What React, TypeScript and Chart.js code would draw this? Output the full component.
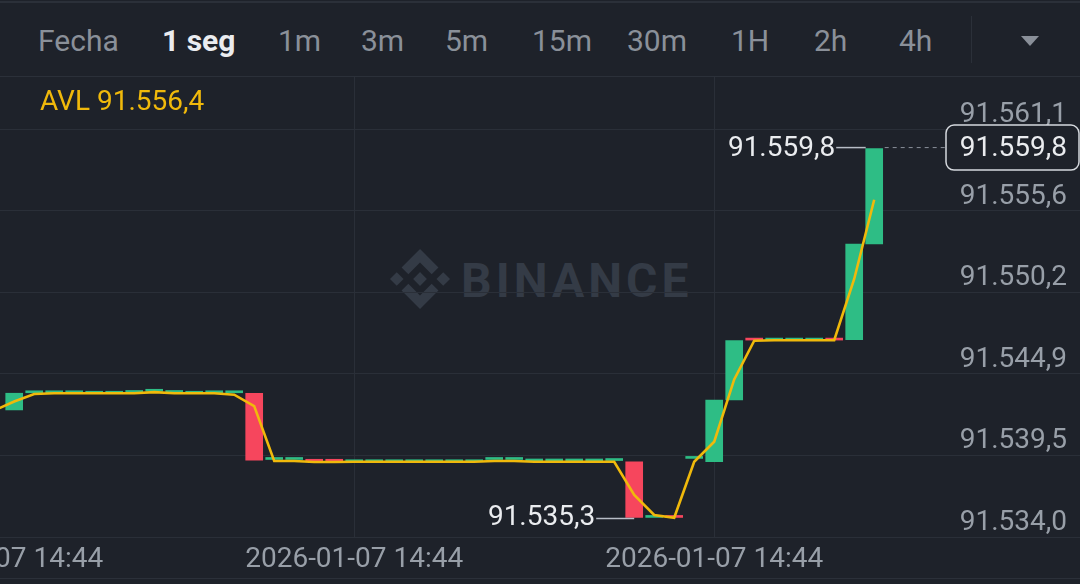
import React, { useEffect, useRef } from "react";
import { Chart, registerables } from "chart.js";

Chart.register(...registerables);

// ---------- data ----------
const tabs = ["Fecha", "1 seg", "1m", "3m", "5m", "15m", "30m", "1H", "2h", "4h"];
const activeTab = "1 seg";

// candle slot 0 is the partly hidden candle at the left edge
const openValues: (number | null)[] = [
  null, 91542.44, 91543.58, 91543.58, 91543.58, 91543.55, 91543.55, 91543.6, 91543.68, 91543.6,
  91543.55, 91543.58, 91543.58, 91543.55, 91539.15, 91539.15, 91539.08, 91539.08, 91539.0, 91539.0,
  91539.0, 91539.0, 91539.0, 91539.0, 91539.0, 91539.15, 91539.15, 91539.05, 91539.05, 91539.05,
  91539.05, 91539.08, 91539.0, 91535.3, 91535.33, 91539.22, 91539.0, 91543.1, 91547.12, 91547.08,
  91547.08, 91547.08, 91547.12, 91547.1, 91553.46,
];
const closeValues: (number | null)[] = [
  null, 91543.55, 91543.6, 91543.6, 91543.6, 91543.55, 91543.55, 91543.62, 91543.7, 91543.62,
  91543.55, 91543.6, 91543.6, 91539.11, 91539.18, 91539.18, 91539.03, 91539.03, 91539.0, 91539.0,
  91539.0, 91539.0, 91539.0, 91539.0, 91539.0, 91539.18, 91539.18, 91539.05, 91539.05, 91539.05,
  91539.05, 91539.09, 91535.3, 91535.3, 91535.3, 91539.25, 91543.1, 91547.04, 91547.08, 91547.1,
  91547.1, 91547.1, 91547.08, 91553.46, 91559.8,
];
const avlValues: number[] = [
  91542.4, 91543.0, 91543.5, 91543.55, 91543.55, 91543.55, 91543.55, 91543.55, 91543.62, 91543.55,
  91543.55, 91543.55, 91543.45, 91542.7, 91539.05, 91539.05, 91538.98, 91538.98, 91539.0, 91539.0,
  91539.0, 91539.0, 91539.0, 91539.0, 91539.0, 91539.05, 91539.05, 91539.0, 91539.0, 91539.0,
  91539.0, 91539.0, 91536.8, 91535.46, 91535.28, 91539.0, 91540.33, 91544.47, 91547.04, 91547.07,
  91547.07, 91547.07, 91547.07, 91551.14, 91556.4,
];

const yTickValues = [91534.0, 91539.42, 91544.84, 91550.26, 91555.68, 91561.1];
const yTickLabels = ["91.534,0", "91.539,5", "91.544,9", "91.550,2", "91.555,6", "91.561,1"];
const xTickSlots = [0, 18, 36];
const xTickLabels = ["2026-01-07 14:44", "2026-01-07 14:44", "2026-01-07 14:44"];

// ---------- styles ----------
const BG = "#1e222a";
const GRID = "#2a2f38";
const GREEN = "#2ebd85";
const RED = "#f6465d";
const YELLOW = "#f0b90b";
const AXIS_TEXT = "#989fa8";
const WHITE = "#eaecef";
const FONT = "Roboto";
const tabLeft = [38, 162, 278, 361, 445, 532, 627, 731, 814, 899];

function fmt(v: number): string {
  const [i, d] = v.toFixed(1).split(".");
  return i.replace(/\B(?=(\d{3})+(?!\d))/g, ".") + "," + d;
}

export default function App() {
  const canvasRef = useRef<HTMLCanvasElement>(null);

  useEffect(() => {
    document.body.style.margin = "0";
    document.body.style.background = BG;
    const canvas = canvasRef.current!;

    const candleData: any[] = [];
    const candleColors: string[] = [];
    openValues.forEach((o, i) => {
      const c = closeValues[i];
      if (o == null || c == null) return;
      candleData.push({ x: i, y: [o, c] });
      candleColors.push(c >= o ? GREEN : RED);
    });
    const avlData = avlValues.map((v, i) => ({ x: i, y: v }));

    const markers = {
      id: "markers",
      afterDraw(chart: any) {
        const { ctx } = chart;
        const xs = chart.scales.x;
        const ys = chart.scales.y;
        let maxI = -1, maxV = -Infinity, minI = -1, minV = Infinity;
        openValues.forEach((o, i) => {
          const c = closeValues[i];
          if (o == null || c == null) return;
          const hi = Math.max(o, c), lo = Math.min(o, c);
          if (hi > maxV) { maxV = hi; maxI = i; }
          if (lo < minV) { minV = lo; minI = i; }
        });
        ctx.save();
        ctx.font = `28px ${FONT}`;
        ctx.textBaseline = "middle";
        ctx.textAlign = "right";
        // max marker
        const maxX = xs.getPixelForValue(maxI);
        const maxY = ys.getPixelForValue(maxV);
        ctx.strokeStyle = "#b7bdc6";
        ctx.lineWidth = 1.5;
        ctx.beginPath();
        ctx.moveTo(maxX - 38, maxY - 1);
        ctx.lineTo(maxX - 8.5, maxY - 1);
        ctx.stroke();
        ctx.fillStyle = WHITE;
        ctx.fillText(fmt(maxV), maxX - 39, maxY);
        // min marker
        const minX = xs.getPixelForValue(minI);
        const minY = ys.getPixelForValue(minV);
        ctx.beginPath();
        ctx.moveTo(minX - 38, minY + 1);
        ctx.lineTo(minX, minY + 1);
        ctx.stroke();
        ctx.fillText(fmt(minV), minX - 39, minY + 1);
        // last price dashed line + box
        const last = closeValues[closeValues.length - 1] as number;
        const lx = xs.getPixelForValue(closeValues.length - 1) + 8.5;
        const ly = ys.getPixelForValue(last);
        ctx.strokeStyle = "#8a919b";
        ctx.lineWidth = 1;
        ctx.setLineDash([4, 4]);
        ctx.beginPath();
        ctx.moveTo(lx + 2, ly - 1);
        ctx.lineTo(946, ly - 1);
        ctx.stroke();
        ctx.setLineDash([]);
        const bx = 946, bw = 133, bh = 45, by = ly - 23.5;
        ctx.fillStyle = BG;
        ctx.strokeStyle = "#d5d9de";
        ctx.lineWidth = 1.5;
        ctx.beginPath();
        (ctx as any).roundRect(bx, by, bw, bh, 8);
        ctx.fill();
        ctx.stroke();
        ctx.fillStyle = WHITE;
        ctx.fillText(fmt(last), 1067, ly);
        ctx.restore();
      },
    };

    const chart = new Chart(canvas, {
      type: "bar",
      data: {
        datasets: [
          {
            type: "line",
            label: "AVL",
            data: avlData as any,
            borderColor: YELLOW,
            borderWidth: 2.6,
            pointRadius: 0,
            tension: 0,
            order: 0,
          } as any,
          {
            type: "bar",
            label: "candles",
            data: candleData,
            backgroundColor: candleColors,
            borderWidth: 0,
            barThickness: 17,
            minBarLength: 2,
            order: 1,
          } as any,
        ],
      },
      options: {
        responsive: false,
        animation: false,
        devicePixelRatio: 1,
        layout: { padding: 0 },
        plugins: { legend: { display: false }, tooltip: { enabled: false } },
        scales: {
          x: {
            type: "linear",
            min: 0.29,
            max: 54.29,
            offset: false,
            grid: { color: GRID, drawTicks: false, lineWidth: 1, offset: false },
            border: { display: false },
            ticks: {
              color: AXIS_TEXT,
              font: { family: FONT, size: 28 },
              padding: 6,
              maxRotation: 0,
              autoSkip: false,
              callback: (_v: any, idx: number) => xTickLabels[idx] ?? "",
            },
            afterBuildTicks: (s: any) => {
              s.ticks = xTickSlots.map((v) => ({ value: v }));
            },
            afterFit: (s: any) => {
              s.height = 47;
              s.paddingLeft = 0;
              s.paddingRight = 0;
            },
          },
          y: {
            type: "linear",
            position: "right",
            min: 91534.0,
            max: 91564.555,
            grid: { color: GRID, drawTicks: false, lineWidth: 1 },
            border: { display: false },
            ticks: {
              mirror: true,
              padding: -13,
              labelOffset: -14,
              color: AXIS_TEXT,
              font: { family: FONT, size: 28 },
              callback: (_v: any, idx: number) => yTickLabels[idx] ?? "",
            },
            afterBuildTicks: (s: any) => {
              s.ticks = yTickValues.map((v) => ({ value: v }));
            },
            afterFit: (s: any) => {
              s.width = 0;
              s.paddingTop = 0;
              s.paddingBottom = 0;
            },
          },
        },
      } as any,
      plugins: [markers],
    });
    return () => chart.destroy();
  }, []);

  const avlText = "AVL " + fmt(avlValues[avlValues.length - 1]);

  return (
    <div
      style={{
        position: "fixed",
        left: 0,
        top: 0,
        width: 1080,
        height: 584,
        background: BG,
        overflow: "hidden",
        fontFamily: FONT,
      }}
    >
      {/* top border line */}
      <div style={{ position: "absolute", left: 0, top: 1, width: 1080, height: 2, background: "#2b3039" }} />
      {tabs.map((t, i) => (
        <div
          key={t}
          style={{
            position: "absolute",
            left: tabLeft[i],
            top: 26,
            fontSize: 30,
            lineHeight: "30px",
            whiteSpace: "nowrap",
            color: t === activeTab ? WHITE : "#8a9099",
            fontWeight: t === activeTab ? 700 : 400,
          }}
        >
          {t}
        </div>
      ))}
      <div style={{ position: "absolute", left: 971, top: 16, width: 1, height: 47, background: "#2b3039" }} />
      <div
        style={{
          position: "absolute",
          left: 1021,
          top: 36,
          width: 0,
          height: 0,
          borderLeft: "9px solid transparent",
          borderRight: "9px solid transparent",
          borderTop: "10px solid #8a9099",
        }}
      />
      <div style={{ position: "absolute", left: 0, top: 76, width: 1080, height: 1, background: "#2b3039" }} />
      {/* watermark */}
      <svg
        style={{ position: "absolute", left: 390, top: 249 }}
        width={60}
        height={60}
        viewBox="0 0 126.61 126.61"
      >
        <g fill="#343b46">
          <path d="m38.73 53.2 24.59-24.58 24.6 24.6 14.3-14.31-38.9-38.91-38.9 38.9z" />
          <path d="m0 63.31 14.3-14.31 14.31 14.31-14.31 14.3z" />
          <path d="m38.73 73.41 24.59 24.59 24.6-24.6 14.31 14.29-38.9 38.91-38.91-38.88-.02-.02z" />
          <path d="m98 63.31 14.3-14.31 14.31 14.3-14.31 14.32z" />
          <path d="m77.83 63.3-14.51-14.52-10.73 10.73-1.24 1.23-2.54 2.54-.02.02.02.03 14.51 14.5 14.51-14.52.01-.01z" />
        </g>
      </svg>
      <div
        style={{
          position: "absolute",
          left: 461,
          top: 257,
          fontSize: 48,
          lineHeight: "48px",
          fontWeight: 700,
          letterSpacing: 4,
          color: "#343b46",
          whiteSpace: "nowrap",
        }}
      >
        BINANCE
      </div>
      <canvas
        ref={canvasRef}
        width={1080}
        height={507}
        style={{ position: "absolute", left: 0, top: 77, width: 1080, height: 507 }}
      />
      <div
        style={{
          position: "absolute",
          left: 40,
          top: 87,
          fontSize: 28,
          lineHeight: "28px",
          color: YELLOW,
          whiteSpace: "nowrap",
        }}
      >
        {avlText}
      </div>
      <div style={{ position: "absolute", left: 0, top: 578, width: 1080, height: 1, background: "#2b3039" }} />
    </div>
  );
}
